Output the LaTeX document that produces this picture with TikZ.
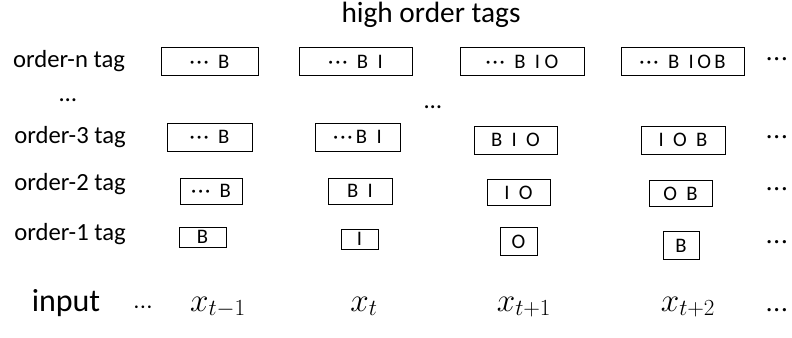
\documentclass[tikz,border=0pt]{standalone}
\usepackage{fontspec}
\setmainfont{Carlito}
\newcommand{\mdots}{·\kern1.4pt·\kern1.4pt·}
\begin{document}
\begin{tikzpicture}[x=0.75pt,y=-0.75pt,
  tagbox/.style={draw, line width=0.7pt, inner sep=0pt, font=\fontsize{15.5}{18}\selectfont},
  rowlabel/.style={font=\fontsize{18.5}{22}\selectfont, anchor=base},
  inlabel/.style={font=\fontsize{25}{30}\selectfont, anchor=base},
  edgedots/.style={anchor=east, font=\fontsize{17}{20}\selectfont}]
\useasboundingbox (0,0) rectangle (792,338);
% title and row labels
\node[font=\fontsize{22}{26}\selectfont, anchor=base] (title) at (431,23) {high order tags};
\node[rowlabel] (lbln) at (69,68) {order-n tag};
\node[rowlabel] (lbldots) at (68,102) {\ldots};
\node[rowlabel] (lbl3) at (70,144) {order-3 tag};
\node[rowlabel] (lbl2) at (70,191) {order-2 tag};
\node[rowlabel] (lbl1) at (70,241) {order-1 tag};
\node[font=\fontsize{24}{29}\selectfont, anchor=base] (lblin) at (66,311) {input};
% order-n boxes
\node[tagbox, minimum width=72.8pt, minimum height=20.3pt] (n1) at (209.5,61.5) {\mdots\ \ B};
\node[tagbox, minimum width=84.8pt, minimum height=20.3pt] (n2) at (355.5,61.5) {\mdots\ \ B\ \ I};
\node[tagbox, minimum width=93pt, minimum height=20.3pt] (n3) at (522,61.5) {\mdots\ \ B\ \ I\ O};
\node[tagbox, minimum width=92.3pt, minimum height=20.3pt] (n4) at (682.5,61.5) {\mdots\ \ B\ \ I\,O\,B};
\node[rowlabel] (dotsmid) at (433,109) {\ldots};
% order-3 boxes
\node[tagbox, minimum width=63.8pt, minimum height=21pt] (t31) at (209.5,137) {\mdots\ \ B};
\node[tagbox, minimum width=63.8pt, minimum height=21pt] (t32) at (357.5,137) {\mdots\,B\ \ I};
\node[tagbox, minimum width=62.3pt, minimum height=21pt] (t33) at (515.5,140) {B\ \ I\ \ O};
\node[tagbox, minimum width=63pt, minimum height=21pt] (t34) at (683,140) {I\ \ O\ \ B};
% order-2 boxes
\node[tagbox, minimum width=46.5pt, minimum height=19.5pt] (t21) at (211,191) {\mdots\ \ B};
\node[tagbox, minimum width=48pt, minimum height=19.5pt] (t22) at (360,191) {B\ \ I};
\node[tagbox, minimum width=47.3pt, minimum height=19.5pt] (t23) at (518.5,192.5) {I\ \ O};
\node[tagbox, minimum width=47.3pt, minimum height=19.5pt] (t24) at (680.5,193.5) {O\ \ B};
% order-1 boxes
\node[tagbox, minimum width=35.3pt, minimum height=15pt] (t11) at (202.5,237) {B};
\node[tagbox, minimum width=27.8pt, minimum height=15pt] (t12) at (359.5,239) {I};
\node[tagbox, minimum width=27.8pt, minimum height=20.3pt] (t13) at (518.5,241.5) {O};
\node[tagbox, minimum width=27pt, minimum height=20.3pt] (t14) at (681,245.5) {B};
% right edge dots
\node[edgedots] (rn) at (792,62) {\mdots};
\node[edgedots] (r3) at (792,140) {\mdots};
\node[edgedots] (r2) at (792,192) {\mdots};
\node[edgedots] (r1) at (792,245) {\mdots};
% inputs
\node[font=\fontsize{14}{16}\selectfont] (indots) at (143,309) {\mdots};
\node[inlabel] (x1) at (218,311) {$x_{t-1}$};
\node[inlabel] (x2) at (364,311) {$x_{t}$};
\node[inlabel] (x3) at (524,311) {$x_{t+1}$};
\node[inlabel] (x4) at (688,311) {$x_{t+2}$};
\node[edgedots] (rin) at (792,313) {\mdots};
\end{tikzpicture}
\end{document}
